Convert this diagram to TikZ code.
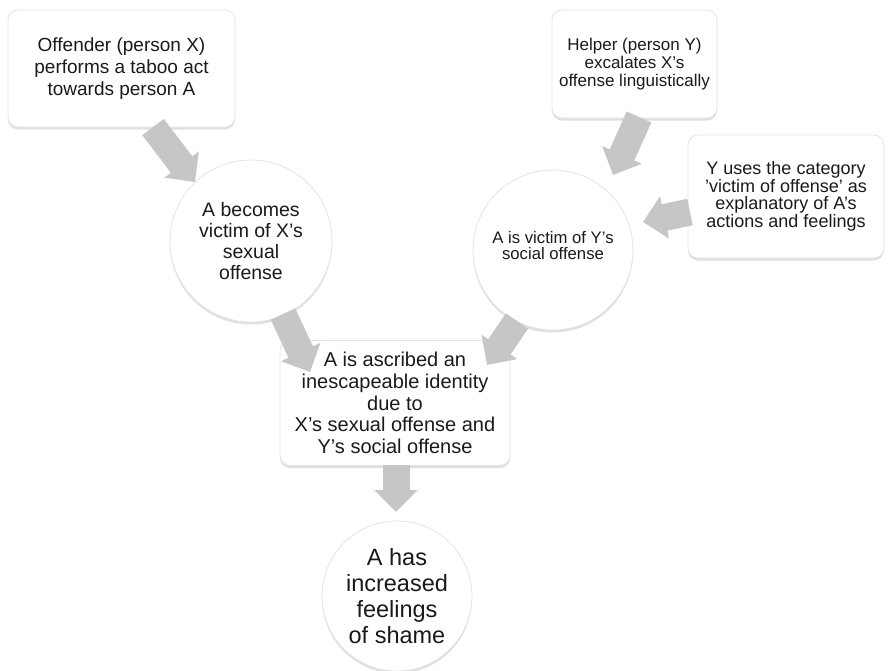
\documentclass[tikz,border=0pt]{standalone}
\usepackage{fontspec}
\setmainfont{Liberation Sans}
\usetikzlibrary{arrows.meta,shadows,shapes.geometric}
\definecolor{arrowgray}{HTML}{C6C6C6}
\definecolor{edgegray}{HTML}{E4E4E4}
\definecolor{txtgray}{HTML}{1A1A1A}
\tikzset{
  boxnode/.style={draw=edgegray, fill=white, rounded corners=10pt, align=center,
    inner sep=0pt, line width=0.8pt, text=txtgray,
    drop shadow={shadow xshift=0pt, shadow yshift=-2.5pt, opacity=0.35, fill=gray!70}},
  circnode/.style={circle, draw=edgegray, fill=white, align=center, inner sep=0pt,
    line width=0.8pt, text=txtgray,
    drop shadow={shadow xshift=0pt, shadow yshift=-2.5pt, opacity=0.35, fill=gray!70}},
  txtA/.style={font=\fontsize{19}{21.7}\selectfont},
  txtB/.style={font=\fontsize{19.5}{21.3}\selectfont},
  txtC/.style={font=\fontsize{17}{18.2}\selectfont},
  txtD/.style={font=\fontsize{18}{17.6}\selectfont},
  txtE/.style={font=\fontsize{16.7}{17}\selectfont},
  txtF/.style={font=\fontsize{20}{21.7}\selectfont},
  txtG/.style={font=\fontsize{23.5}{26}\selectfont},
  blockarrow/.style={draw=arrowgray, line width=27pt,
    -{Triangle[width=42pt,length=22pt]}, arrowgray}
}
\begin{document}
\begin{tikzpicture}[x=1pt,y=-1pt]
\useasboundingbox (0,0) rectangle (888,670);
% boxes
\node[boxnode, txtA, minimum width=227pt, minimum height=117pt] (b1) at (121.5,68.5)
  {Offender (person X)\\performs a taboo act\\towards person A};
\node[boxnode, txtC, minimum width=165pt, minimum height=108pt] (b2) at (634.5,64)
  {Helper (person Y)\\excalates X's\\offense linguistically};
\node[boxnode, txtD, minimum width=196pt, minimum height=123pt] (b3) at (786,196.5)
  {Y uses the category\\'victim of offense' as\\explanatory of A's\\actions and feelings};
\node[circnode, txtB, minimum size=162pt] (c1) at (251,241)
  {A becomes\\victim of X's\\sexual\\offense};
\node[circnode, txtE, minimum size=160pt] (c2) at (553,250)
  {\raisebox{9pt}{\shortstack{A is victim of Y's\\social offense}}};
\node[boxnode, txtF, minimum width=230pt, minimum height=125pt] (b4) at (395,403)
  {A is ascribed an\\inescapeable identity\\due to\\X's sexual offense and\\Y's social offense};
\node[circnode, txtG, minimum size=150pt] (c3) at (397,596)
  {A has\\increased\\feelings\\of shame};
% arrow end points
\coordinate (s1) at (153,127);
\coordinate (t1) at (195,182);
\coordinate (s2) at (283,314);
\coordinate (t2) at (310,372);
\coordinate (s3) at (517,321);
\coordinate (t3) at (487,365);
\coordinate (s4) at (639,117);
\coordinate (t4) at (613,175);
\coordinate (s5) at (690,212);
\coordinate (t5) at (643,222);
\coordinate (s6) at (396,465);
\coordinate (t6) at (396,512);
% arrows
\draw[blockarrow] (s1) -- (t1);
\draw[blockarrow] (s2) -- (t2);
\draw[blockarrow] (s3) -- (t3);
\draw[blockarrow] (s4) -- (t4);
\draw[blockarrow] (s5) -- (t5);
\draw[blockarrow] (s6) -- (t6);
\end{tikzpicture}
\end{document}
